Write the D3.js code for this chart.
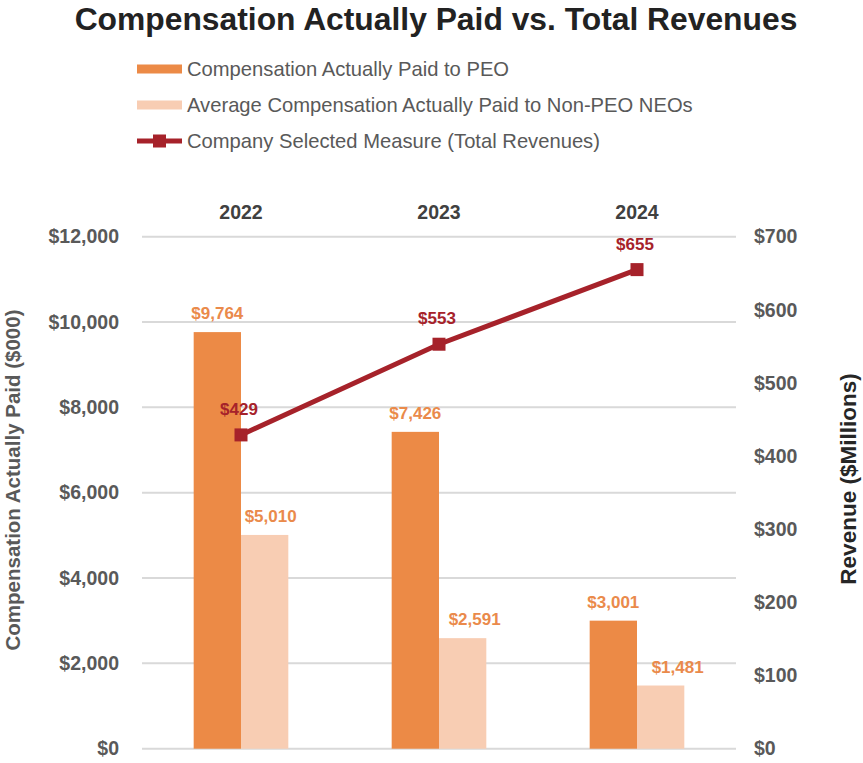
<!DOCTYPE html>
<html>
<head>
<meta charset="utf-8">
<script src="https://cdn.jsdelivr.net/npm/d3@7"></script>
<style>
  html, body { margin: 0; padding: 0; background: #fff; }
  svg { display: block; font-family: "Liberation Sans", Arial, sans-serif; }
</style>
</head>
<body>
<svg id="chart" width="863" height="763"></svg>
<script>
// ---- data ----
const years = ["2022", "2023", "2024"];
const peoCAP = [9764, 7426, 3001];
const neoCAP = [5010, 2591, 1481];
const revenues = [429, 553, 655];
const leftTicks = [0, 2000, 4000, 6000, 8000, 10000, 12000];
const rightTicks = [0, 100, 200, 300, 400, 500, 600, 700];
const seriesNames = [
  "Compensation Actually Paid to PEO",
  "Average Compensation Actually Paid to Non-PEO NEOs",
  "Company Selected Measure (Total Revenues)"
];

(function () {
// ---- style ----
const C_PEO = "#EC8A46";
const C_NEO = "#F8CDB3";
const C_LINE = "#A6222A";
const C_LABEL = "#EA8A4B";
const C_TEXT = "#595959";
const neoLabelDx = [6, 12, 17];

const svg = d3.select("#chart");
const pL = 142, pR = 736, pT = 236.7, pB = 748.7;

const x0 = d3.scaleBand().domain(years).range([pL, pR])
  .paddingInner(0.522).paddingOuter(0.261);
const x1 = d3.scaleBand().domain(["peo", "neo"]).range([0, x0.bandwidth()]);
const yL = d3.scaleLinear().domain([0, 12000]).range([pB, pT]);
const yR = d3.scaleLinear().domain([0, 700]).range([pB, pT]);

// Title
svg.append("text")
  .attr("x", 436).attr("y", 30)
  .attr("text-anchor", "middle")
  .attr("font-size", 31.8).attr("font-weight", "bold")
  .attr("fill", "#222")
  .text("Compensation Actually Paid vs. Total Revenues");

// Legend
const legY = [69, 105, 141];
const lg = svg.append("g");
lg.append("rect").attr("x", 137).attr("y", legY[0] - 4.5).attr("width", 45).attr("height", 9).attr("fill", C_PEO);
lg.append("rect").attr("x", 137).attr("y", legY[1] - 4.5).attr("width", 45).attr("height", 9).attr("fill", C_NEO);
lg.append("line").attr("x1", 137).attr("x2", 182).attr("y1", legY[2]).attr("y2", legY[2])
  .attr("stroke", C_LINE).attr("stroke-width", 5);
lg.append("rect").attr("x", 153).attr("y", legY[2] - 6.5).attr("width", 13).attr("height", 13).attr("fill", C_LINE);
seriesNames.forEach((n, i) => {
  lg.append("text").attr("x", 187).attr("y", legY[i])
    .attr("dominant-baseline", "central")
    .attr("font-size", 20.2).attr("fill", C_TEXT).text(n);
});

// Gridlines
svg.append("g").selectAll("line").data(leftTicks).join("line")
  .attr("x1", pL).attr("x2", pR)
  .attr("y1", d => yL(d)).attr("y2", d => yL(d))
  .attr("stroke", "#D9D9D9").attr("stroke-width", 2);

// Left axis labels
const axL = svg.append("g").attr("transform", `translate(${pL},0)`)
  .call(d3.axisLeft(yL).tickValues(leftTicks).tickSize(0).tickPadding(23)
    .tickFormat(d => "$" + d3.format(",")(d)));
axL.select(".domain").remove();
axL.selectAll("text").attr("font-size", 19.5).attr("font-weight", "bold")
  .attr("fill", C_TEXT).attr("font-family", "Liberation Sans, Arial, sans-serif");

// Right axis labels
const axR = svg.append("g").attr("transform", `translate(${pR},0)`)
  .call(d3.axisRight(yR).tickValues(rightTicks).tickSize(0).tickPadding(18)
    .tickFormat(d => "$" + d));
axR.select(".domain").remove();
axR.selectAll("text").attr("font-size", 19.5).attr("font-weight", "bold")
  .attr("fill", C_TEXT).attr("font-family", "Liberation Sans, Arial, sans-serif");

// Top year labels
const axT = svg.append("g").attr("transform", `translate(0,${pT})`)
  .call(d3.axisTop(x0).tickSize(0).tickPadding(18));
axT.select(".domain").remove();
axT.selectAll("text").attr("font-size", 19.5).attr("font-weight", "bold")
  .attr("fill", "#404040").attr("font-family", "Liberation Sans, Arial, sans-serif");

// Axis titles
svg.append("text")
  .attr("transform", "translate(20,480) rotate(-90)")
  .attr("text-anchor", "middle")
  .attr("font-size", 20.5).attr("font-weight", "bold").attr("fill", C_TEXT)
  .text("Compensation Actually Paid ($000)");
svg.append("text")
  .attr("transform", "translate(856,479) rotate(-90)")
  .attr("text-anchor", "middle")
  .attr("font-size", 22.5).attr("font-weight", "bold").attr("fill", "#262626")
  .text("Revenue ($Millions)");

// Bars
const g = svg.append("g");
years.forEach((yr, i) => {
  const bx = x0(yr);
  g.append("rect").attr("x", bx + x1("peo")).attr("y", yL(peoCAP[i]))
    .attr("width", x1.bandwidth()).attr("height", yL(0) - yL(peoCAP[i])).attr("fill", C_PEO);
  g.append("rect").attr("x", bx + x1("neo")).attr("y", yL(neoCAP[i]))
    .attr("width", x1.bandwidth()).attr("height", yL(0) - yL(neoCAP[i])).attr("fill", C_NEO);
  g.append("text").attr("x", bx + x1("peo") + x1.bandwidth() / 2).attr("y", yL(peoCAP[i]) - 13)
    .attr("text-anchor", "middle").attr("font-size", 17).attr("font-weight", "bold")
    .attr("fill", C_LABEL).text("$" + d3.format(",")(peoCAP[i]));
  g.append("text").attr("x", bx + x1("neo") + x1.bandwidth() / 2 + neoLabelDx[i]).attr("y", yL(neoCAP[i]) - 13)
    .attr("text-anchor", "middle").attr("font-size", 17).attr("font-weight", "bold")
    .attr("fill", C_LABEL).text("$" + d3.format(",")(neoCAP[i]));
});

// Line
const cx = yr => x0(yr) + x0.bandwidth() / 2;
const line = d3.line().x((d, i) => cx(years[i])).y(d => yR(d));
svg.append("path").datum(revenues).attr("d", line)
  .attr("fill", "none").attr("stroke", C_LINE).attr("stroke-width", 5);
svg.append("g").selectAll("rect").data(revenues).join("rect")
  .attr("x", (d, i) => cx(years[i]) - 6.5).attr("y", d => yR(d) - 6.5)
  .attr("width", 13).attr("height", 13).attr("fill", C_LINE);
svg.append("g").selectAll("text").data(revenues).join("text")
  .attr("x", (d, i) => cx(years[i]) - 2).attr("y", d => yR(d) - 20)
  .attr("text-anchor", "middle").attr("font-size", 17).attr("font-weight", "bold")
  .attr("fill", C_LINE).text(d => "$" + d);
})();
</script>
</body>
</html>
